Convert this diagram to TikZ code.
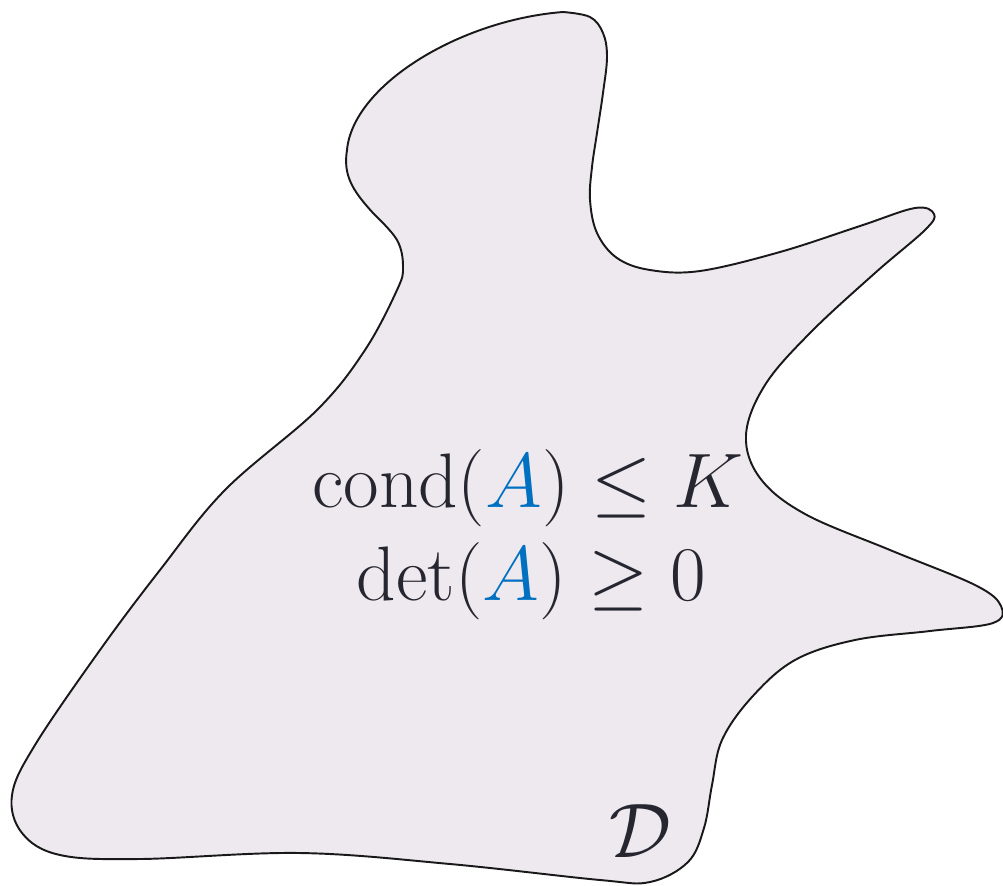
\RequirePackage{fix-cm}
\documentclass[tikz,border=0pt]{standalone}
\usepackage{amsmath}
\definecolor{blobfill}{RGB}{238,232,239}
\definecolor{inkdark}{RGB}{38,38,48}
\definecolor{ablue}{RGB}{0,112,192}
\tikzset{
  blob/.style={draw=black!90, line width=1.1pt, fill=blobfill, line join=round},
  label/.style={text=inkdark, inner sep=0pt, font=\fontsize{44}{52}\selectfont}
}
\begin{document}
\begin{tikzpicture}[x=0.02cm, y=-0.02cm]
\useasboundingbox (0,0) rectangle (1003,885);
\draw[blob] (373,213) .. controls (352,190) and (343,175) .. (347,150)
 .. controls (353,85) and (460,20) .. (563,12)
 -- plot[smooth, tension=0.6] coordinates {
 (563,12) (590,17) (603,33) (607,57) (603,93)
 (597,133) (592,167) (590,200)
 (597,233) (617,258) (650,270) (700,271) (780,252) (860,226)
 (915,208) (934,214) (925,230) (875,273) (810,333) (765,385) (746,435)
 (760,478) (805,514) (890,550) (975,585) (1001,606) (993,623) (930,631)
 (855,640) (795,660) (752,697) (722,740) (712,785) (704,828) (688,862)
 (650,882) (600,880) (450,864) (300,853) (140,859) (60,855) (22,833)
 (12,795) (35,745) (100,650) (160,570) (225,490) (317,410) (365,350)
 (397,290) (403,267) (397,240) (373,213)} -- cycle;
\node[label, anchor=base east] (condl) at (570,507) {$\mathrm{cond}(\textcolor{ablue}{A})$};
\node[label, anchor=base west] (condr) at (condl.base east) {${}\le K$};
\node[label, anchor=base east] (det) at (567,600) {$\det(\textcolor{ablue}{A})$};
\node[label, anchor=base west] (zero) at (det.base east) {${}\ge 0$};
\node[label] (D) at (640,831) {$\mathcal{D}$};
\end{tikzpicture}
\end{document}
